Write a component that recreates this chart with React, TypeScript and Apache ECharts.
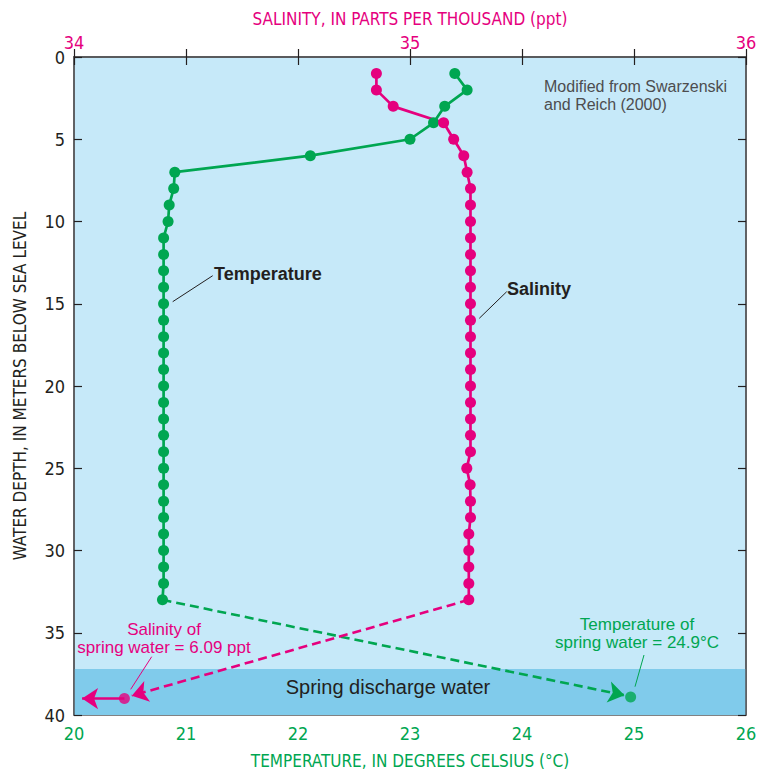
import React, { useEffect, useRef } from "react";
import * as echarts from "echarts";

// ---- data ----
const depthM = [
  1, 2, 3, 4, 5, 6, 7, 8, 9, 10, 11, 12, 13, 14, 15, 16, 17, 18, 19, 20, 21, 22,
  23, 24, 25, 26, 27, 28, 29, 30, 31, 32, 33,
];
const temperatureC = [
  23.4, 23.51, 23.31, 23.21, 23.0, 22.11, 20.9, 20.89, 20.85, 20.84, 20.8, 20.8,
  20.8, 20.8, 20.8, 20.8, 20.8, 20.8, 20.8, 20.8, 20.8, 20.8, 20.8, 20.8, 20.8,
  20.8, 20.8, 20.8, 20.8, 20.8, 20.8, 20.8, 20.79,
];
const salinityPpt = [
  34.9, 34.9, 34.95, 35.1, 35.13, 35.16, 35.17, 35.18, 35.18, 35.18, 35.18, 35.18,
  35.18, 35.18, 35.18, 35.18, 35.18, 35.18, 35.18, 35.18, 35.18, 35.18, 35.18,
  35.18, 35.169, 35.179, 35.18, 35.18, 35.175, 35.175, 35.175, 35.175, 35.175,
];
// spring water points (temperature, depth) and (salinity plotted at chart edge, depth)
const springTemp = [24.97, 38.9];
const springSal = [34.15, 39];
// arrow tips
const tempArrowEnd = [24.915, 38.8];
const salArrowEnd = [34.172, 38.83];
const salOffScaleArrowEnd = [34.024, 39];
// spring discharge water layer (depth range)
const springLayer = [37.2, 40];
// axes
const tempAxis = { min: 20, max: 26, interval: 1 };
const salAxis = { min: 34, max: 36, interval: 1 };
const depthAxis = { min: 0, max: 40, interval: 5 };

const PINK = "#e5007e";
const GREEN = "#00a651";
const DARK = "#231f20";
const BORDER = "#58595b";
const NARROW =
  "'Liberation Sans Narrow', 'DejaVu Sans Condensed', Roboto, sans-serif";
const SANS = "'Liberation Sans', Arial, sans-serif";

export default function App() {
  const ref = useRef<HTMLDivElement>(null);
  useEffect(() => {
    const chart = echarts.init(ref.current!, null, { renderer: "svg" });
    const tempData = depthM.map((d, i) => [temperatureC[i], d]);
    const salData = depthM.map((d, i) => [salinityPpt[i], d]);
    const tick = {
      show: true,
      inside: true,
      length: 8,
      lineStyle: { color: DARK, width: 1.2 },
    };
    const axisLine = { show: true, lineStyle: { color: BORDER, width: 1.5 } };
    const tickFont = { fontFamily: NARROW, fontSize: 18 };
    const nameFont = { fontFamily: NARROW, fontSize: 17 };
    const arrowLine = (color: string, dashed: boolean) => ({
      silent: true,
      symbol: ["none", "arrow"],
      symbolSize: 16,
      label: { show: false },
      emphasis: { disabled: true },
      lineStyle: { color, width: 2.6, type: dashed ? [9, 5] : "solid", opacity: 1 },
    });

    chart.setOption({
      animation: false,
      grid: {
        left: 74,
        top: 57,
        width: 672,
        height: 658,
        containLabel: false,
        outerBoundsMode: "none",
        show: true,
        backgroundColor: "#c6e9f9",
        borderColor: BORDER,
        borderWidth: 1.5,
      },
      xAxis: [
        {
          type: "value",
          position: "bottom",
          ...tempAxis,
          z: 5,
          axisLine,
          axisTick: tick,
          splitLine: { show: false },
          axisLabel: { color: GREEN, margin: 9, ...tickFont },
          name: "TEMPERATURE, IN DEGREES CELSIUS (°C)",
          nameLocation: "middle",
          nameGap: 37,
          nameTextStyle: { color: GREEN, ...nameFont },
        },
        {
          type: "value",
          position: "top",
          ...salAxis,
          z: 5,
          axisLine,
          axisTick: { show: false },
          splitLine: { show: false },
          axisLabel: { color: PINK, margin: 6, ...tickFont },
          name: "SALINITY, IN PARTS PER THOUSAND (ppt)",
          nameLocation: "middle",
          nameGap: 30,
          nameTextStyle: { color: PINK, ...nameFont },
        },
        {
          type: "value",
          position: "top",
          ...tempAxis,
          z: 5,
          axisLine: { show: false },
          axisTick: tick,
          splitLine: { show: false },
          axisLabel: { show: false },
        },
      ],
      yAxis: [
        {
          type: "value",
          inverse: true,
          position: "left",
          ...depthAxis,
          z: 5,
          axisLine,
          axisTick: tick,
          splitLine: { show: false },
          axisLabel: { color: DARK, margin: 9, ...tickFont },
          name: "WATER DEPTH, IN METERS BELOW SEA LEVEL",
          nameLocation: "middle",
          nameRotate: 90,
          nameGap: 46,
          nameTextStyle: { color: DARK, ...nameFont },
        },
        {
          type: "value",
          inverse: true,
          position: "right",
          ...depthAxis,
          z: 5,
          axisLine,
          axisTick: tick,
          splitLine: { show: false },
          axisLabel: { show: false },
        },
      ],
      series: [
        {
          type: "line",
          xAxisIndex: 0,
          yAxisIndex: 0,
          data: [],
          z: 1,
          silent: true,
          markArea: {
            silent: true,
            itemStyle: { color: "#80cbeb" },
            label: { show: false },
            data: [[{ yAxis: springLayer[0] }, { yAxis: springLayer[1] }]],
          },
        },
        {
          type: "line",
          xAxisIndex: 0,
          yAxisIndex: 0,
          data: [],
          z: 2,
          markLine: {
            ...arrowLine(GREEN, true),
            data: [
              [
                { coord: tempData[tempData.length - 1] },
                { coord: tempArrowEnd },
              ],
            ],
          },
        },
        {
          type: "line",
          xAxisIndex: 1,
          yAxisIndex: 0,
          data: [],
          z: 2,
          markLine: {
            ...arrowLine(PINK, true),
            data: [
              [{ coord: salData[salData.length - 1] }, { coord: salArrowEnd }],
            ],
          },
        },
        {
          type: "line",
          xAxisIndex: 1,
          yAxisIndex: 0,
          data: [],
          z: 2,
          markLine: {
            ...arrowLine(PINK, false),
            data: [[{ coord: springSal }, { coord: salOffScaleArrowEnd }]],
          },
        },
        {
          name: "Temperature",
          type: "line",
          xAxisIndex: 0,
          yAxisIndex: 0,
          data: tempData,
          symbol: "circle",
          symbolSize: 11,
          showSymbol: true,
          z: 3,
          silent: true,
          lineStyle: { color: GREEN, width: 2.7 },
          itemStyle: { color: GREEN },
        },
        {
          name: "Salinity",
          type: "line",
          xAxisIndex: 1,
          yAxisIndex: 0,
          data: salData,
          symbol: "circle",
          symbolSize: 11,
          showSymbol: true,
          z: 3,
          silent: true,
          lineStyle: { color: PINK, width: 2.7 },
          itemStyle: { color: PINK },
        },
        {
          type: "scatter",
          xAxisIndex: 0,
          yAxisIndex: 0,
          data: [springTemp],
          symbol: "circle",
          symbolSize: 11,
          z: 3,
          silent: true,
          itemStyle: { color: GREEN },
        },
        {
          type: "scatter",
          xAxisIndex: 1,
          yAxisIndex: 0,
          data: [springSal],
          symbol: "circle",
          symbolSize: 11,
          z: 3,
          silent: true,
          itemStyle: { color: PINK },
        },
      ],
      graphic: [
        {
          type: "text",
          x: 214,
          y: 274,
          z: 10,
          style: {
            text: "Temperature",
            fill: DARK,
            font: `bold 18px ${SANS}`,
            verticalAlign: "middle",
          },
        },
        {
          type: "line",
          z: 10,
          shape: { x1: 172.7, y1: 301.7, x2: 212.7, y2: 275.7 },
          style: { stroke: DARK, lineWidth: 1 },
        },
        {
          type: "text",
          x: 507,
          y: 289,
          z: 10,
          style: {
            text: "Salinity",
            fill: DARK,
            font: `bold 18px ${SANS}`,
            verticalAlign: "middle",
          },
        },
        {
          type: "line",
          z: 10,
          shape: { x1: 479.3, y1: 318.3, x2: 506.7, y2: 291.7 },
          style: { stroke: DARK, lineWidth: 1 },
        },
        {
          type: "text",
          x: 544,
          y: 95,
          z: 10,
          style: {
            text: "Modified from Swarzenski\nand Reich (2000)",
            fill: "#4d4d4f",
            font: `16px ${SANS}`,
            lineHeight: 18,
            verticalAlign: "middle",
          },
        },
        {
          type: "text",
          x: 388,
          y: 687,
          z: 10,
          style: {
            text: "Spring discharge water",
            fill: DARK,
            font: `20px ${SANS}`,
            align: "center",
            verticalAlign: "middle",
          },
        },
        {
          type: "text",
          x: 164,
          y: 638.5,
          z: 10,
          style: {
            text: "Salinity of\nspring water = 6.09 ppt",
            fill: PINK,
            font: `17px ${SANS}`,
            lineHeight: 17.6,
            align: "center",
            verticalAlign: "middle",
          },
        },
        {
          type: "line",
          z: 10,
          shape: { x1: 130.7, y1: 689.3, x2: 151.7, y2: 656.7 },
          style: { stroke: PINK, lineWidth: 1 },
        },
        {
          type: "text",
          x: 637,
          y: 633.5,
          z: 10,
          style: {
            text: "Temperature of\nspring water = 24.9°C",
            fill: GREEN,
            font: `17px ${SANS}`,
            lineHeight: 17.6,
            align: "center",
            verticalAlign: "middle",
          },
        },
        {
          type: "line",
          z: 10,
          shape: { x1: 635, y1: 686.7, x2: 644, y2: 655 },
          style: { stroke: GREEN, lineWidth: 1 },
        },
      ],
    });
    return () => chart.dispose();
  }, []);
  return (
    <div
      ref={ref}
      style={{ position: "absolute", left: 0, top: 0, width: 757, height: 772 }}
    />
  );
}
